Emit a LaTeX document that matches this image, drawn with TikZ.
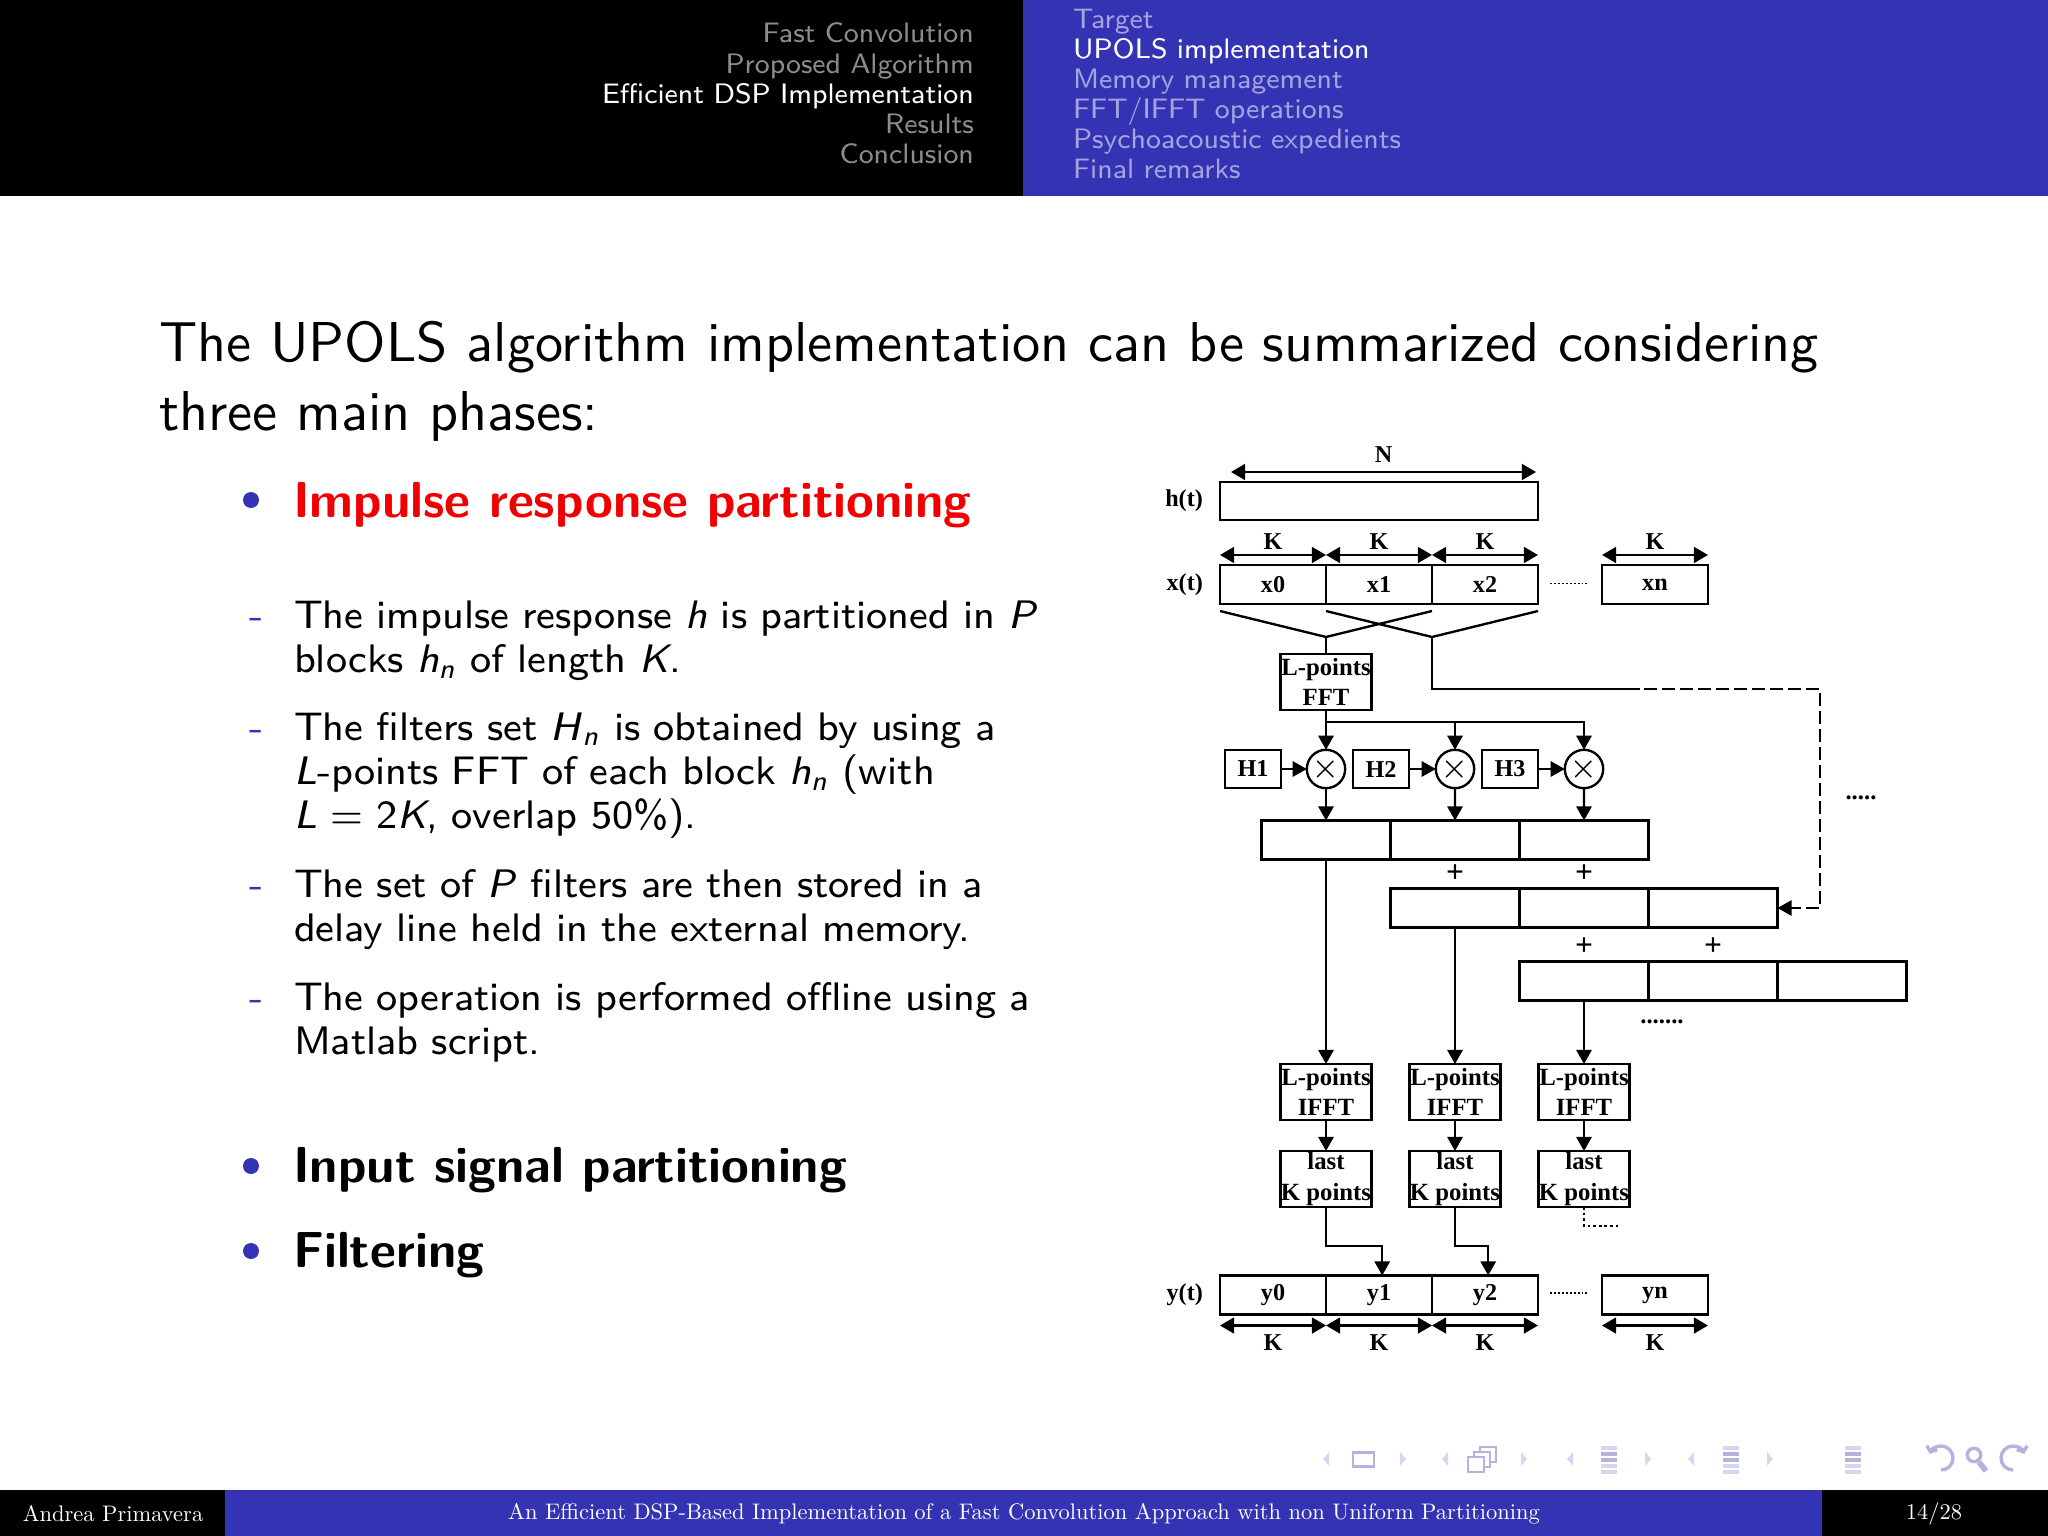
\documentclass[tikz,border=0pt]{standalone}
\usepackage{fontspec}
\newfontfamily\dgserif{Liberation Serif}
\newfontfamily\footserif{lmroman10-regular.otf}
\usetikzlibrary{arrows.meta, positioning, calc}
\definecolor{SlideBlue}{HTML}{3333B3}
\definecolor{SlideRed}{HTML}{F00000}
\definecolor{HeadGray}{HTML}{8C8C8C}
\definecolor{HeadLilac}{HTML}{A3A3DE}
\definecolor{NavLight}{HTML}{D6D6EE}
\definecolor{NavDark}{HTML}{B3B3DD}
\newcommand\txtmain{\sffamily\fontsize{10}{12.1}\selectfont}
\newcommand\txtphase{\sffamily\bfseries\fontsize{9}{10}\selectfont}
\newcommand\txtsub{\sffamily\fontsize{7.07}{7.9}\selectfont}
\newcommand\txthead{\sffamily\fontsize{5}{5.34}\selectfont}
\newcommand\txtfoot{\footserif\fontsize{4}{4.8}\selectfont}
\newcommand\dgbox{\dgserif\bfseries\fontsize{4.4}{5.45}\selectfont}
\newcommand\dgtext{\dgserif\bfseries\fontsize{4.3}{5}\selectfont}
\newcommand\dglabel{\dgserif\bfseries\fontsize{4.3}{5}\selectfont}
\tikzset{
    % slide text
    headleft/.style={anchor=base east, inner sep=0pt, text width=60mm, align=right, font=\txthead},
    headright/.style={anchor=base west, inner sep=0pt, text width=60mm, align=left, font=\txthead},
    maintext/.style={anchor=base west, inner sep=0pt, text width=125mm, align=left, font=\txtmain},
    phase/.style={anchor=base west, inner sep=0pt, font=\txtphase},
    subtext/.style={anchor=base west, inner sep=0pt, text width=70mm, align=left, font=\txtsub},
    subdash/.style={anchor=base, inner sep=0pt, text=SlideBlue, font=\txtsub},
    foottext/.style={inner sep=0pt, text=white, font=\txtfoot},
    % diagram boxes
    block/.style={rectangle, draw, line width=0.42pt, minimum width=6.625mm, minimum height=2.44mm, inner sep=0pt, outer sep=0pt, font=\dgtext},
    wideblock/.style={block, minimum width=19.875mm, minimum height=2.375mm},
    cell/.style={block, minimum width=8.0625mm},
    fftbox/.style={block, minimum width=5.69mm, minimum height=3.5mm, align=center, font=\dgbox},
    filterbox/.style={block, minimum width=3.5mm, minimum height=2.375mm},
    mult/.style={circle, draw, line width=0.42pt, minimum size=1.69mm, inner sep=0pt, outer sep=0pt, font=\dgserif\fontsize{5}{5}\selectfont},
    siglabel/.style={inner sep=0pt, font=\dglabel},
    klabel/.style={midway, inner sep=0pt, font=\dglabel},
    plus/.style={inner sep=0pt, font=\dgserif\bfseries\fontsize{5.6}{5.6}\selectfont},
    dotstext/.style={inner sep=0pt, font=\dgbox},
    % connectors
    wire/.style={line width=0.42pt},
    sigarrow/.style={wire, -{Triangle[length=2.5pt,width=2.7pt]}},
    spanarrow/.style={wire, {Triangle[length=2.5pt,width=2.8pt]}-{Triangle[length=2.5pt,width=2.8pt]}},
    feedback/.style={sigarrow, dash pattern=on 2.4pt off 0.8pt},
    gapdots/.style={line width=0.3pt, dash pattern=on 0.35pt off 0.35pt},
    loosedots/.style={line width=0.4pt, dash pattern=on 0.5pt off 0.5pt}
}
\begin{document}
\begin{tikzpicture}[x=0.0625mm, y=-0.0625mm]
    \useasboundingbox (0,0) rectangle (2048,1536);

    % header
    \fill[black] (0,0) rectangle (1023,196);
    \fill[SlideBlue] (1023,0) rectangle (2048,196);
    \node[headleft] (sections) at (975,43) {\color{HeadGray}Fast Convolution\\Proposed Algorithm\\\color{white}Efficient DSP Implementation\\\color{HeadGray}Results\\Conclusion};
    \node[headright] (subsections) at (1072,28) {\color{HeadLilac}Target\\\color{white}UPOLS implementation\\\color{HeadLilac}Memory management\\FFT/IFFT operations\\Psychoacoustic expedients\\Final remarks};

    % slide text
    \node[maintext] (intro) at (158,362) {The UPOLS algorithm implementation can be summarized considering\\three main phases:};

    \fill[SlideBlue] (251,500) circle (0.5mm);
    \node[phase, text=SlideRed] (phaseone) at (292,517) {Impulse response partitioning};

    \node[subdash] (dashone) at (257,628) {-};
    \node[subtext] (subone) at (293,628) {The impulse response \textit{h} is partitioned in \textit{P}\\blocks \textit{h}\textsubscript{\textit{n}} of length \textit{K}.};
    \node[subdash] (dashtwo) at (257,740) {-};
    \node[subtext] (subtwo) at (293,740) {The filters set \textit{H}\textsubscript{\textit{n}} is obtained by using a\\\textit{L}-points FFT of each block \textit{h}\textsubscript{\textit{n}} (with\\\textit{L} = 2\textit{K}, overlap 50\%).};
    \node[subdash] (dashthree) at (257,897) {-};
    \node[subtext] (subthree) at (293,897) {The set of \textit{P} filters are then stored in a\\delay line held in the external memory.};
    \node[subdash] (dashfour) at (257,1010) {-};
    \node[subtext] (subfour) at (293,1010) {The operation is performed offline using a\\Matlab script.};

    \fill[SlideBlue] (251,1166) circle (0.5mm);
    \node[phase] (phasetwo) at (292,1182) {Input signal partitioning};
    \fill[SlideBlue] (251,1251) circle (0.5mm);
    \node[phase] (phasethree) at (292,1267) {Filtering};

    % impulse response and input blocks
    \node[wideblock] (hbox) at (1379,501) {};
    \node[siglabel, left=1mm of hbox] (hlabel) {h(t)};
    \draw[spanarrow] ($(hbox.north west)+(11,-10)$) -- ($(hbox.north east)+(-2,-10)$) node[klabel, above=0.5mm] (nlabel) {N};

    \node[block] (x0) at (1273,584.5) {x0};
    \node[block, right=0pt of x0] (x1) {x1};
    \node[block, right=0pt of x1] (x2) {x2};
    \node[block] (xn) at (1655,584.5) {xn};
    \node[siglabel, left=1mm of x0] (xlabel) {x(t)};
    \draw[gapdots] ($(x2.east)+(12,-1)$) -- ($(xn.west)+(-15,-1)$);
    \foreach \b in {x0,x1,x2,xn}
        \draw[spanarrow] ($(\b.north west)+(0,-10)$) -- ($(\b.north east)+(0,-10)$) node[klabel, above=0.3mm] (k\b) {K};

    \coordinate (j1) at (1326,637);
    \coordinate (j2) at (1432,637);
    \draw[wire] ($(x0.south west)+(0,7)$) -- (j1) -- ($(x2.south west)+(0,7)$);
    \draw[wire] ($(x1.south west)+(0,7)$) -- (j2) -- ($(x2.south east)+(0,7)$);

    % FFT and filtering
    \node[fftbox] (fft) at (1326,682) {L-points\\FFT};
    \draw[wire] (j1) -- (fft);

    \node[mult] (m1) at (1326,769) {$\times$};
    \node[mult] (m2) at (1455,769) {$\times$};
    \node[mult] (m3) at (1584,769) {$\times$};
    \node[filterbox] (hf1) at (1253,769) {H1};
    \node[filterbox] (hf2) at (1381,769) {H2};
    \node[filterbox] (hf3) at (1510,769) {H3};

    \coordinate (bus) at (1326,722);
    \draw[sigarrow] (fft) -- (m1);
    \draw[sigarrow] (bus) -| (m2);
    \draw[sigarrow] (bus) -| (m3);
    \foreach \i in {1,2,3}
        \draw[sigarrow] (hf\i) -- (m\i);

    % overlap-add rows
    \node[cell] (r1a) at (1326,840) {};
    \node[cell, right=0pt of r1a] (r1b) {};
    \node[cell, right=0pt of r1b] (r1c) {};
    \node[cell] (r2a) at (1455,908) {};
    \node[cell, right=0pt of r2a] (r2b) {};
    \node[cell, right=0pt of r2b] (r2c) {};
    \node[cell] (r3a) at (1584,981) {};
    \node[cell, right=0pt of r3a] (r3b) {};
    \node[cell, right=0pt of r3b] (r3c) {};
    \foreach \i/\c in {1/a,2/b,3/c}
        \draw[sigarrow] (m\i) -- (r1\c);

    \node[plus] (plusa) at (1455,874) {+};
    \node[plus] (plusb) at (1584,874) {+};
    \node[plus] (plusc) at (1584,947) {+};
    \node[plus] (plusd) at (1713,947) {+};
    \node[dotstext] (morecols) at (1861,798) {.....};
    \node[dotstext] (morerows) at (1662,1022) {.......};

    \coordinate (fbk) at (1626,689);
    \coordinate (fbkturn) at (1820,689);
    \draw[wire] (j2) |- (fbk);
    \draw[feedback] (fbk) -- (fbkturn) |- (r2c);

    % IFFT and output
    \node[fftbox] (ifft1) at (1326,1092) {L-points\\IFFT};
    \node[fftbox] (ifft2) at (1455,1092) {L-points\\IFFT};
    \node[fftbox] (ifft3) at (1584,1092) {L-points\\IFFT};
    \node[fftbox] (last1) at (1326,1179) {last\\K points};
    \node[fftbox] (last2) at (1455,1179) {last\\K points};
    \node[fftbox] (last3) at (1584,1179) {last\\K points};
    \draw[sigarrow] (r1a) -- (ifft1);
    \draw[sigarrow] (r2a) -- (ifft2);
    \draw[sigarrow] (r3a) -- (ifft3);
    \foreach \i in {1,2,3}
        \draw[sigarrow] (ifft\i) -- (last\i);

    \node[block] (y0) at (1273,1295) {y0};
    \node[block, right=0pt of y0] (y1) {y1};
    \node[block, right=0pt of y1] (y2) {y2};
    \node[block] (yn) at (1655,1295) {yn};
    \node[siglabel, left=1mm of y0] (ylabel) {y(t)};
    \draw[gapdots] ($(y2.east)+(12,-2)$) -- ($(yn.west)+(-15,-2)$);
    \foreach \b in {y0,y1,y2,yn}
        \draw[spanarrow] ($(\b.south west)+(0,11)$) -- ($(\b.south east)+(0,11)$) node[klabel, below=0.5mm] (k\b) {K};

    \draw[sigarrow] (last1.south) -- ++(0,39) -| ([xshift=0.2mm]y1.north);
    \draw[sigarrow] (last2.south) -- ++(0,39) -| ([xshift=0.2mm]y2.north);
    \draw[loosedots] (last3.south) -- ++(0,19) -- ++(34,0);

    % navigation symbols
    \foreach \xa/\xb in {1326/1403, 1445/1524, 1570/1648, 1691/1770} {
        \fill[NavLight] (\xa-3,1459) -- (\xa+3,1452) -- (\xa+3,1466) -- cycle;
        \fill[NavLight] (\xb+3,1459) -- (\xb-3,1452) -- (\xb-3,1466) -- cycle;
    }
    \draw[NavDark, line width=0.5pt] (1353,1452.5) rectangle (1374,1466.5);
    \foreach \d in {12,6,0}
        \filldraw[fill=white, draw=NavDark, line width=0.5pt] (1468+\d,1457-\d*5/6) rectangle (1484+\d,1472-\d*5/6);
    \foreach \cx in {1609,1731,1853}
        \foreach \yy/\col in {1448/NavLight,1454/NavDark,1460/NavDark,1466/NavLight,1472/NavLight}
            \draw[\col, line width=0.7pt] (\cx-8,\yy) -- (\cx+8,\yy);
    \draw[NavDark, line width=0.6pt, -{Straight Barb[length=0.8pt,width=2pt]}] (1941,1458) ++(-90:0.75mm) arc[start angle=-90, end angle=160, radius=0.75mm];
    \draw[NavDark, line width=0.6pt] (1974,1455) circle (0.42mm);
    \draw[NavDark, line width=1pt] (1979,1462) -- (1986,1471);
    \draw[NavDark, line width=0.6pt, -{Straight Barb[length=0.8pt,width=2pt]}] (2013,1458) ++(-90:0.75mm) arc[start angle=270, end angle=20, radius=0.75mm];

    % footer
    \fill[black] (0,1490) rectangle (225,1536);
    \fill[SlideBlue] (225,1490) rectangle (1822,1536);
    \fill[black] (1822,1490) rectangle (2048,1536);
    \node[foottext] (author) at (113,1514) {Andrea Primavera};
    \node[foottext] (talktitle) at (1024,1514) {An Efficient DSP-Based Implementation of a Fast Convolution Approach with non Uniform Partitioning};
    \node[foottext] (pageno) at (1934,1514) {14/28};
\end{tikzpicture}
\end{document}
